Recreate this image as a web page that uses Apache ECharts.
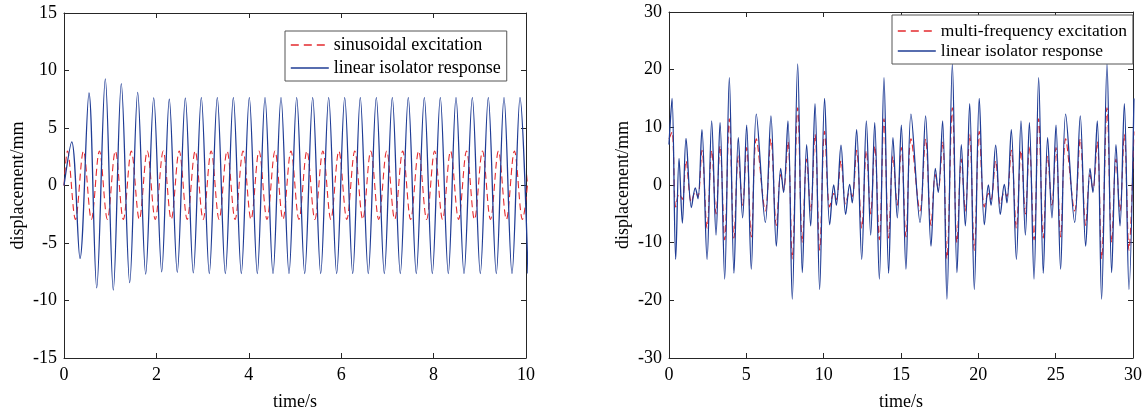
<!DOCTYPE html>
<html>
<head>
<meta charset="utf-8">
<script src="https://cdn.jsdelivr.net/npm/echarts/dist/echarts.min.js"></script>
<style>
html,body{margin:0;padding:0;background:#fff;}
#chart{width:1145px;height:416px;}
</style>
</head>
<body>
<div id="chart"></div>
<script>
// ---------------- Left panel: sinusoidal excitation (turning points) ----------------
const sineExcTime = [0, 0.075, 0.248, 0.421, 0.593, 0.766, 0.939, 1.112, 1.284, 1.457, 1.630, 1.803, 1.975, 2.148, 2.321, 2.494, 2.666, 2.839, 3.012, 3.185, 3.357, 3.530, 3.703, 3.876, 4.048, 4.221, 4.394, 4.567, 4.739, 4.912, 5.085, 5.258, 5.430, 5.603, 5.776, 5.949, 6.121, 6.294, 6.467, 6.640, 6.812, 6.985, 7.158, 7.331, 7.503, 7.676, 7.849, 8.022, 8.194, 8.367, 8.540, 8.713, 8.885, 9.058, 9.231, 9.404, 9.576, 9.749, 9.922, 10.095];
const sineExcValue = [0, 3.0, -2.95, 3.0, -2.95, 3.0, -2.95, 3.0, -2.95, 3.0, -2.95, 3.0, -2.95, 3.0, -2.95, 3.0, -2.95, 3.0, -2.95, 3.0, -2.95, 3.0, -2.95, 3.0, -2.95, 3.0, -2.95, 3.0, -2.95, 3.0, -2.95, 3.0, -2.95, 3.0, -2.95, 3.0, -2.95, 3.0, -2.95, 3.0, -2.95, 3.0, -2.95, 3.0, -2.95, 3.0, -2.95, 3.0, -2.95, 3.0, -2.95, 3.0, -2.95, 3.0, -2.95, 3.0, -2.95, 3.0, -2.95, 3.0];
const sineRespTime = [0, 0.167, 0.346, 0.541, 0.708, 0.894, 1.067, 1.240, 1.422, 1.595, 1.768, 1.942, 2.115, 2.279, 2.452, 2.626, 2.799, 2.972, 3.145, 3.318, 3.492, 3.665, 3.838, 4.011, 4.184, 4.351, 4.524, 4.697, 4.870, 5.037, 5.210, 5.383, 5.556, 5.729, 5.902, 6.076, 6.249, 6.413, 6.586, 6.760, 6.933, 7.106, 7.279, 7.452, 7.625, 7.799, 7.972, 8.145, 8.318, 8.485, 8.658, 8.838, 9.011, 9.184, 9.357, 9.524, 9.697, 9.870, 10.043];
const sineRespValue = [0, 3.8, -6.35, 8.05, -8.9, 9.27, -9.1, 8.86, -8.45, 8.1, -7.7, 7.62, -7.5, 7.5, -7.55, 7.6, -7.6, 7.65, -7.65, 7.65, -7.65, 7.65, -7.65, 7.65, -7.65, 7.65, -7.65, 7.65, -7.65, 7.65, -7.65, 7.65, -7.65, 7.65, -7.65, 7.65, -7.65, 7.65, -7.65, 7.65, -7.65, 7.65, -7.65, 7.65, -7.65, 7.65, -7.65, 7.65, -7.65, 7.65, -7.65, 7.65, -7.65, 7.65, -7.65, 7.65, -7.65, 7.65, -7.65];

// ---------------- Right panel: multi-frequency excitation (turning points) ----------------
const multiTime = [
  0, 0.196, 0.433, 0.649, 0.864, 1.101, 1.446, 1.70, 1.876,
  2.13, 2.46, 2.76, 3.04, 3.30, 3.60, 3.90, 4.20, 4.48, 4.76, 5.02, 5.32, 5.645, 6.23, 6.59, 6.94, 7.22, 7.41, 7.69, 7.97, 8.32, 8.62, 8.90, 9.16, 9.44, 9.74,
  10.06, 10.39, 10.65, 10.82, 11.12, 11.42, 11.68, 11.85,
  12.13, 12.46, 12.76, 13.04, 13.30, 13.60, 13.90, 14.20, 14.48, 14.76, 15.02, 15.32, 15.645, 16.23, 16.59, 16.94, 17.22, 17.41, 17.69, 17.97, 18.32, 18.62, 18.90, 19.16, 19.44, 19.74,
  20.06, 20.39, 20.65, 20.82, 21.12, 21.42, 21.68, 21.85,
  22.13, 22.46, 22.76, 23.04, 23.30, 23.60, 23.90, 24.20, 24.48, 24.76, 25.02, 25.32, 25.645, 26.23, 26.59, 26.94, 27.22, 27.41, 27.69, 27.97, 28.32, 28.62, 28.90, 29.16, 29.44, 29.74,
  30.06
];
const multiExcitation = [
  8.0, 9.2, -3.8, -1.5, -2.5, 4.2, -3.0, -1.2, -2.0,
  6.0, -7.5, 6.0, -5.0, 6.8, -9.5, 11.5, -9.2, 5.0, -3.5, 6.5, -9.0, 8.0, -4.5, 8.0, -7.0, 1.8, -0.8, 7.5, -12.8, 13.4, -10.0, 4.5, -4.5, 8.8, -11.3,
  9.3, -3.8, -1.5, -2.5, 4.2, -3.3, -1.2, -2.0,
  6.0, -7.5, 6.0, -5.0, 6.8, -9.5, 11.5, -9.2, 5.0, -3.5, 6.5, -9.0, 8.0, -4.5, 8.0, -7.0, 1.8, -0.8, 7.5, -12.8, 13.4, -10.0, 4.5, -4.5, 8.8, -11.3,
  9.3, -3.8, -1.5, -2.5, 4.2, -3.3, -1.2, -2.0,
  6.0, -7.5, 6.0, -5.0, 6.8, -9.5, 11.5, -9.2, 5.0, -3.5, 6.5, -9.0, 8.0, -4.5, 8.0, -7.0, 1.8, -0.8, 7.5, -12.8, 13.4, -10.0, 4.5, -4.5, 8.8, -11.3,
  9.3
];
const multiResponse = [
  7.0, 15.0, -12.9, 4.6, -6.6, 8.1, -3.9, -0.5, -2.4,
  9.6, -12.9, 11.1, -8.7, 10.8, -16.3, 18.6, -15.3, 8.2, -5.7, 10.4, -14.6, 12.3, -6.5, 12.0, -10.6, 2.9, -1.3, 11.1, -19.8, 21.0, -15.2, 7.0, -7.1, 14.1, -18.1,
  15.0, -6.9, 0.0, -3.5, 6.9, -5.1, 0.1, -3.1,
  9.6, -12.9, 11.1, -8.7, 10.8, -16.3, 18.6, -15.3, 8.2, -5.7, 10.4, -14.6, 12.3, -6.5, 12.0, -10.6, 2.9, -1.3, 11.1, -19.8, 21.0, -15.2, 7.0, -7.1, 14.1, -18.1,
  15.0, -6.9, 0.0, -3.5, 6.9, -5.1, 0.1, -3.1,
  9.6, -12.9, 11.1, -8.7, 10.8, -16.3, 18.6, -15.3, 8.2, -5.7, 10.4, -14.6, 12.3, -6.5, 12.0, -10.6, 2.9, -1.3, 11.1, -19.8, 21.0, -15.2, 7.0, -7.1, 14.1, -18.1,
  15.0
];

// ---------------- Axis ticks and labels ----------------
const leftXTicks = [0, 2, 4, 6, 8, 10];
const leftYTicks = [-15, -10, -5, 0, 5, 10, 15];
const rightXTicks = [0, 5, 10, 15, 20, 25, 30];
const rightYTicks = [-30, -20, -10, 0, 10, 20, 30];
const xName = 'time/s';
const yName = 'displacement/mm';
const leftLegend = ['sinusoidal excitation', 'linear isolator response'];
const rightLegend = ['multi-frequency excitation', 'linear isolator response'];

// ---------------- Styling ----------------
const FONT = '"Liberation Serif", "Times New Roman", serif';
const AXC = '#262626';
const RED = '#e42a2e';
const BLUE = '#1f3c95';
const SMOOTH = 0.35;

function zip(a, b) { return a.map((t, i) => [t, b[i]]); }

function xAx(grid, ticks, top) {
  return {
    type: 'value', gridIndex: grid, position: top ? 'top' : 'bottom',
    min: ticks[0], max: ticks[ticks.length - 1], interval: ticks[1] - ticks[0],
    axisLine: { show: true, onZero: false, lineStyle: { color: AXC, width: 1 } },
    axisTick: { show: true, inside: true, length: 5, lineStyle: { color: AXC, width: 1 } },
    axisLabel: { show: !top, color: '#000', fontFamily: FONT, fontSize: 18, margin: 8 },
    splitLine: { show: false },
    name: top ? '' : xName, nameLocation: 'middle', nameGap: 35,
    nameTextStyle: { color: '#000', fontFamily: FONT, fontSize: 18 }
  };
}
function yAx(grid, ticks, right) {
  return {
    type: 'value', gridIndex: grid, position: right ? 'right' : 'left',
    min: ticks[0], max: ticks[ticks.length - 1], interval: ticks[1] - ticks[0],
    axisLine: { show: true, onZero: false, lineStyle: { color: AXC, width: 1 } },
    axisTick: { show: true, inside: true, length: 5, lineStyle: { color: AXC, width: 1 } },
    axisLabel: { show: !right, color: '#000', fontFamily: FONT, fontSize: 18, margin: 7 },
    splitLine: { show: false },
    name: right ? '' : yName, nameLocation: 'middle', nameGap: 37,
    nameTextStyle: { color: '#000', fontFamily: FONT, fontSize: 18 }
  };
}
function lineSeries(name, data, xi, yi, color, dashed) {
  return {
    name, type: 'line', data, xAxisIndex: xi, yAxisIndex: yi,
    smooth: SMOOTH, showSymbol: false, symbol: 'none', legendIcon: 'none', clip: true,
    lineStyle: { color, width: dashed ? 1.1 : 1.3, type: dashed ? [7, 4] : 'solid' },
    itemStyle: { color }, animation: false, silent: true
  };
}
function legend(names, left, top, pad, gap, size) {
  return {
    data: [
      { name: names[0], lineStyle: { type: [8, 5], width: 1.6, color: RED, opacity: 1 } },
      { name: names[1], lineStyle: { type: 'solid', width: 1.3, color: BLUE, opacity: 1 } }
    ],
    orient: 'vertical', left, top, padding: pad, itemGap: gap,
    itemWidth: 38, itemHeight: 14, borderColor: '#555', borderWidth: 1,
    backgroundColor: '#fff', borderRadius: 0, selectedMode: false,
    itemStyle: { opacity: 0, borderWidth: 0 },
    textStyle: { color: '#000', fontFamily: FONT, fontSize: size, lineHeight: 14 }
  };
}

const chart = echarts.init(document.getElementById('chart'), null, { renderer: 'canvas' });
chart.setOption({
  backgroundColor: '#fff',
  animation: false,
  grid: [
    { left: 64, right: 619, top: 13, bottom: 57 },
    { left: 669, right: 12, top: 12, bottom: 57 }
  ],
  xAxis: [xAx(0, leftXTicks, false), xAx(0, leftXTicks, true), xAx(1, rightXTicks, false), xAx(1, rightXTicks, true)],
  yAxis: [yAx(0, leftYTicks, false), yAx(0, leftYTicks, true), yAx(1, rightYTicks, false), yAx(1, rightYTicks, true)],
  legend: [
    legend(leftLegend, 285, 31, [5, 6, 4, 5], 5, 18),
    legend(rightLegend, 892, 15, [7, 6, 4, 5], 2, 17.5)
  ],
  series: [
    lineSeries(leftLegend[0], zip(sineExcTime, sineExcValue), 0, 0, RED, true),
    lineSeries(leftLegend[1], zip(sineRespTime, sineRespValue), 0, 0, BLUE, false),
    lineSeries(rightLegend[0], zip(multiTime, multiExcitation), 2, 2, RED, true),
    lineSeries(rightLegend[1], zip(multiTime, multiResponse), 2, 2, BLUE, false)
  ]
});
</script>
</body>
</html>
